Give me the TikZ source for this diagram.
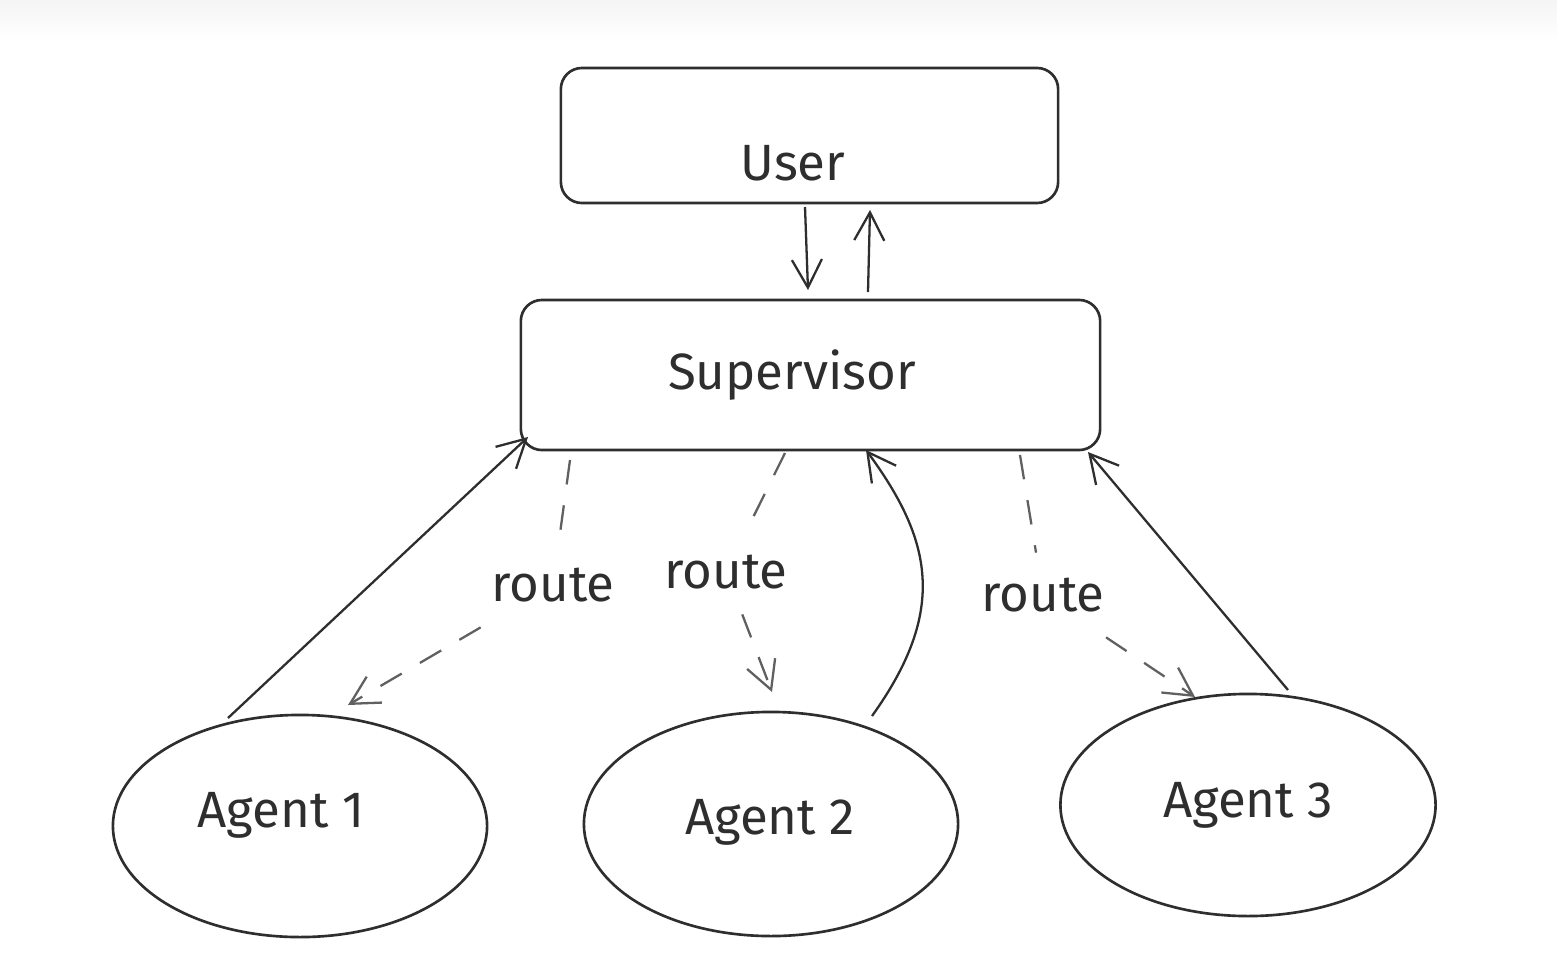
\documentclass[tikz,border=0pt]{standalone}
\usepackage{fontspec}
\setmainfont{Fira Sans}
\usetikzlibrary{arrows.meta,shapes.geometric}
\definecolor{ink}{HTML}{2E2E2E}
\definecolor{dashink}{HTML}{606060}

\begin{document}
\begin{tikzpicture}[x=0.01cm, y=-0.01cm, >={Straight Barb[length=2.8mm,width=3mm]}]
    \tikzstyle{box} = [draw=ink, line width=0.75pt, rounded corners=6pt, inner sep=0pt]
    \tikzstyle{agent} = [ellipse, draw=ink, line width=0.75pt, inner sep=0pt, minimum width=3.74cm, minimum height=2.22cm]
    \tikzstyle{txt} = [font=\fontsize{14.5}{17}\selectfont, text=ink, inner sep=1pt]
    \tikzstyle{routelbl} = [font=\fontsize{14.5}{17}\selectfont, text=ink, inner sep=7pt]
    \tikzstyle{flow} = [draw=ink, line width=0.65pt, ->]
    \tikzstyle{routeflow} = [draw=dashink, line width=0.65pt, dash pattern=on 7pt off 6pt]
    \useasboundingbox (0,0) rectangle (1557,957);
    \fill[white] (0,0) rectangle (1557,957);
    \shade[top color=gray!8, bottom color=white] (0,0) rectangle (1557,42);

    % boxes
    \node[box, minimum width=4.97cm, minimum height=1.35cm] (user) at (809.5,135.5) {};
    \node[txt] (userlbl) at (793,163) {User};
    \node[box, minimum width=5.79cm, minimum height=1.5cm] (sup) at (810.5,375) {};
    \node[txt] (suplbl) at (792,375) {Supervisor};

    % agents
    \node[agent] (agent1) at (300,826) {};
    \node[txt] at (281,815) {Agent 1};
    \node[agent, minimum height=2.24cm] (agent2) at (771,824) {};
    \node[txt] at (770,822) {Agent 2};
    \node[agent, minimum width=3.75cm] (agent3) at (1248,805) {};
    \node[txt] at (1248,805) {Agent 3};

    % route labels
    \node[routelbl] (route1) at (553,585) {route};
    \node[routelbl] (route2) at (726,572) {route};
    \node[routelbl] (route3) at (1043,595) {route};

    % end points
    \coordinate (u1) at (805,207);
    \coordinate (s1) at (808,290);
    \coordinate (s2) at (868,292);
    \coordinate (u2) at (870,210);
    \coordinate (a1top) at (228,718);
    \coordinate (supsw) at (528,437);
    \coordinate (a2top) at (872,716);
    \coordinate (supmid) at (866,450);
    \coordinate (a3top) at (1288,690);
    \coordinate (supse) at (1088,452);
    \coordinate (r1s) at (570,460);
    \coordinate (r1e) at (348,705);
    \coordinate (r2s) at (785,453);
    \coordinate (r2e) at (772,692);
    \coordinate (r3s) at (1020,455);
    \coordinate (r3e) at (1195,697);

    % user <-> supervisor
    \draw[flow] (u1) -- (s1);
    \draw[flow] (s2) -- (u2);

    % agents back to supervisor
    \draw[flow] (a1top) -- (supsw);
    \draw[flow] (a2top) .. controls (948,610) and (932,540) .. (supmid);
    \draw[flow] (a3top) -- (supse);

    % routing
    \draw[routeflow] (r1s) -- (route1);
    \draw[routeflow, ->] (route1) -- (r1e);
    \draw[routeflow] (r2s) -- (route2);
    \draw[routeflow, ->] (route2) -- (r2e);
    \draw[routeflow] (r3s) -- (route3);
    \draw[routeflow, ->] (route3) -- (r3e);
\end{tikzpicture}
\end{document}
